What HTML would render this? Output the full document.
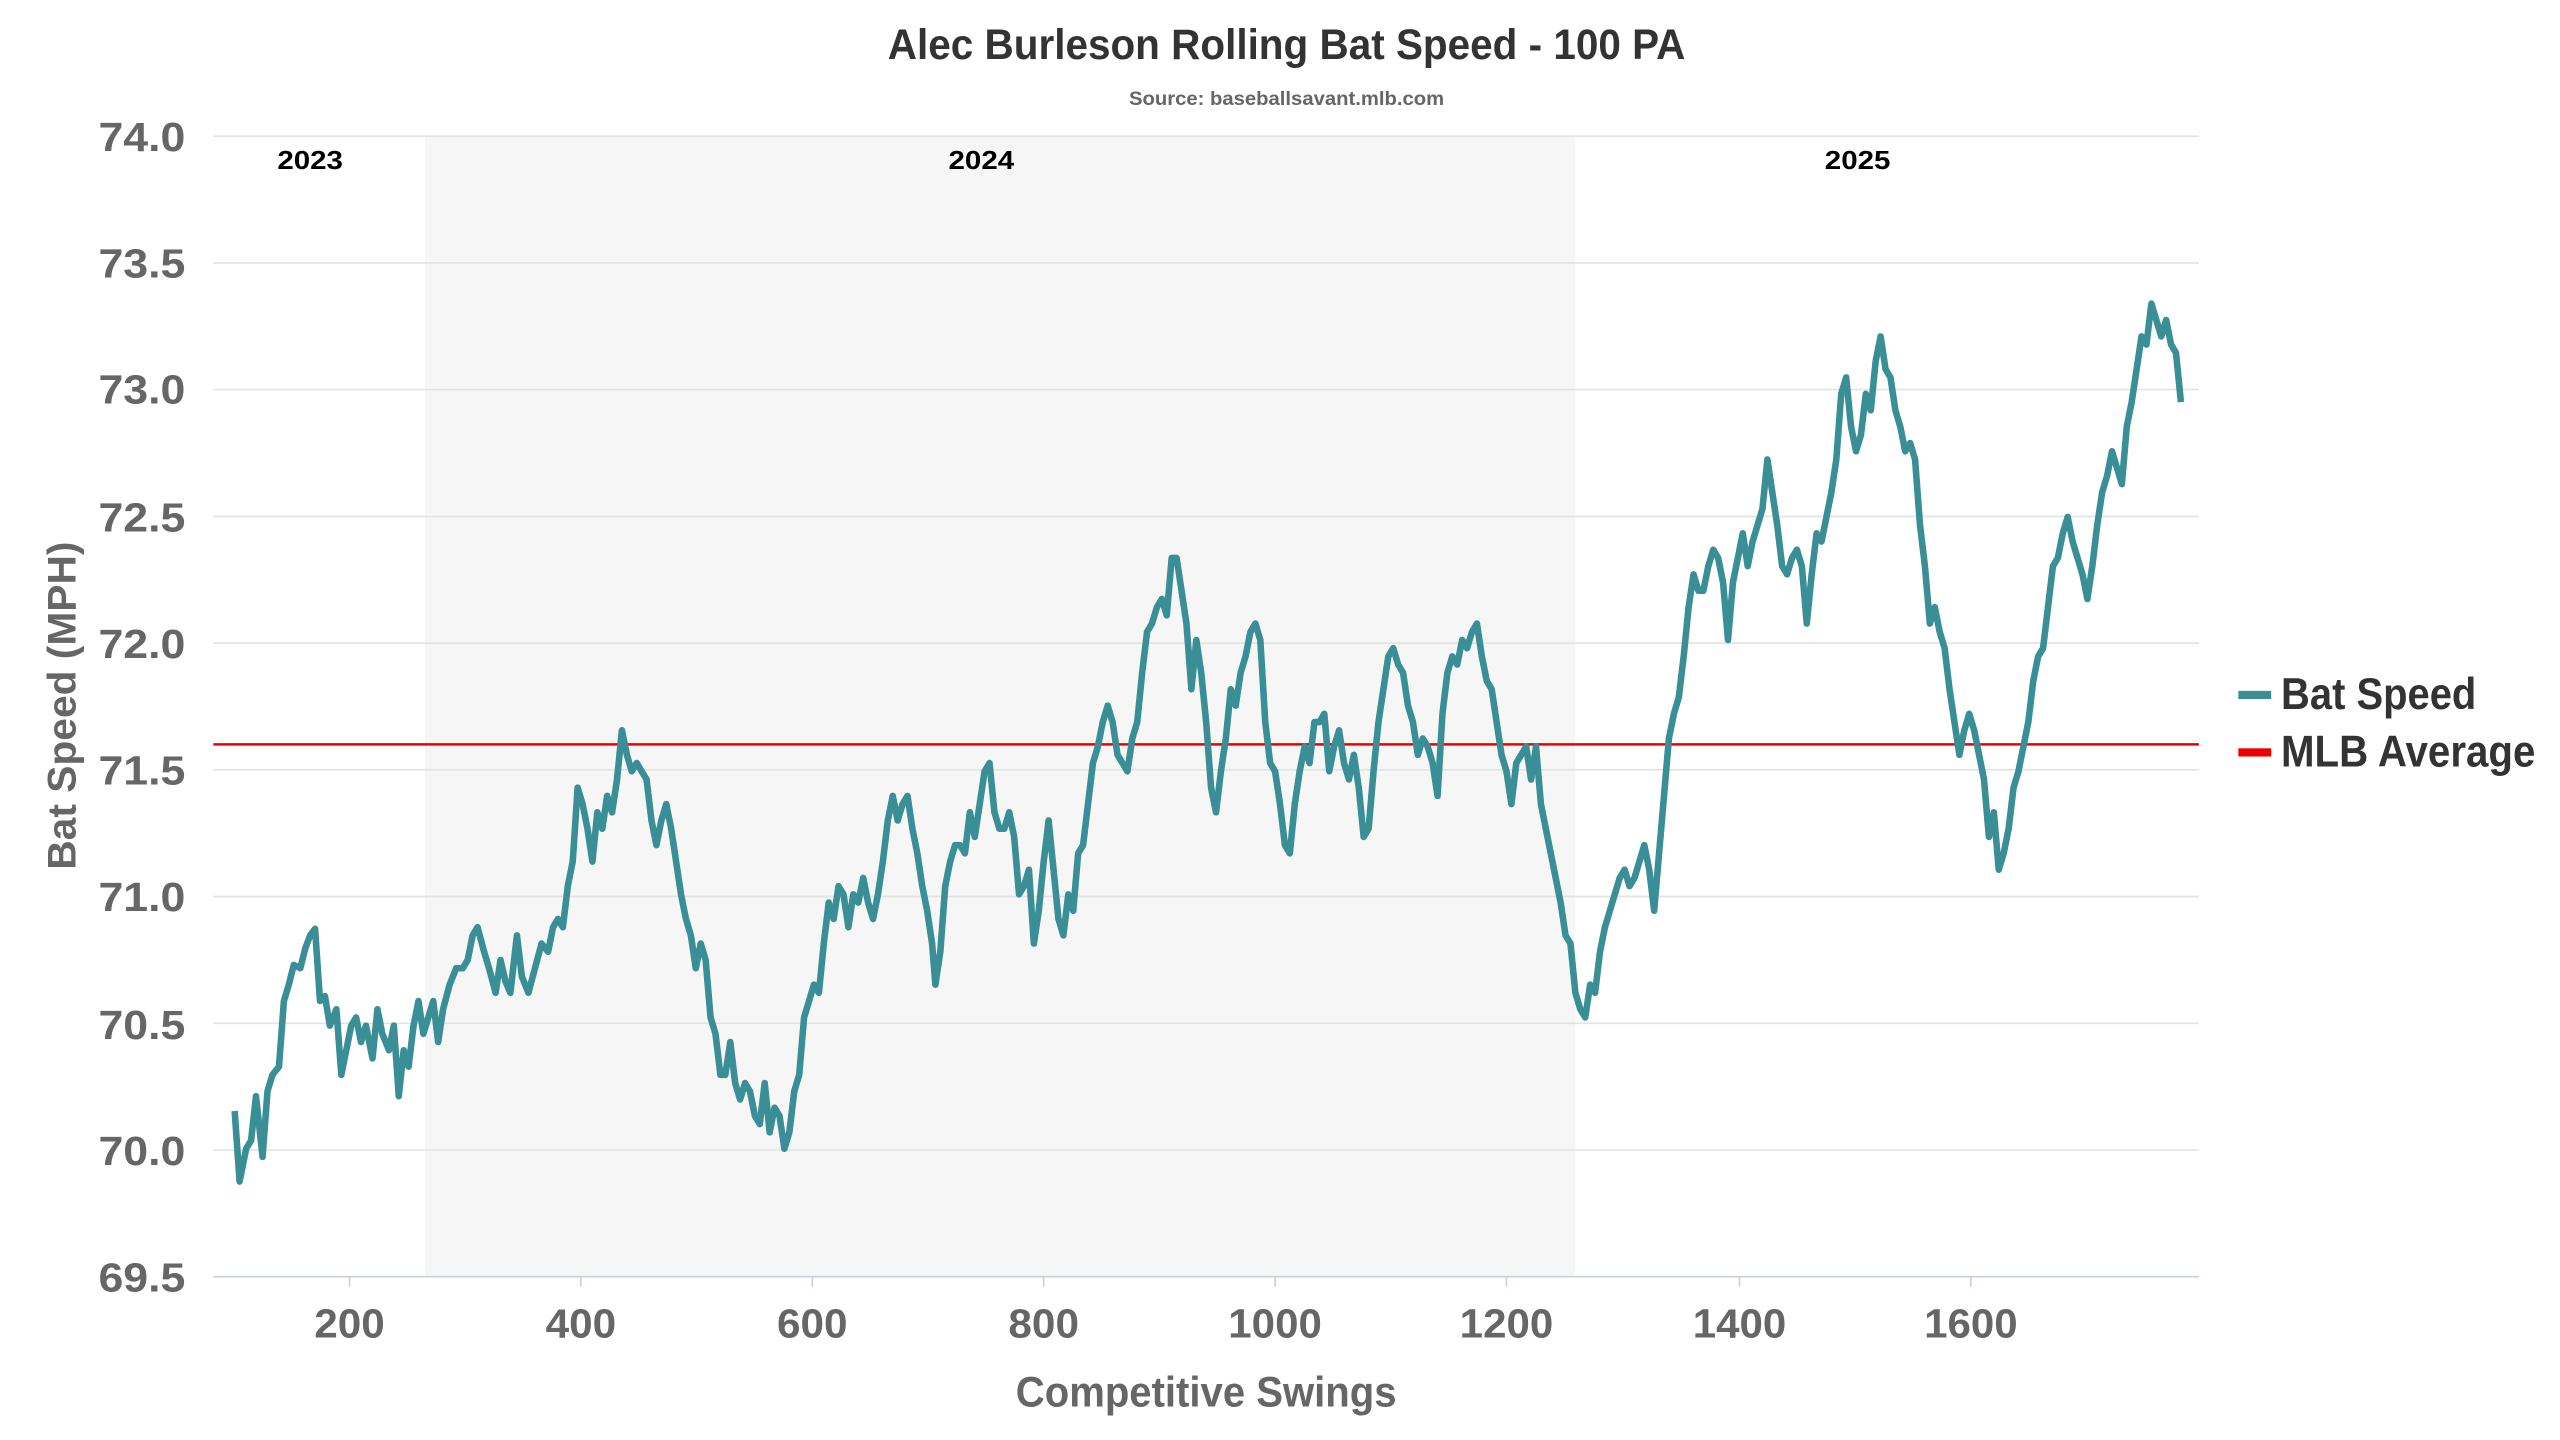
<!DOCTYPE html>
<html><head><meta charset="utf-8"><style>
html,body{margin:0;padding:0;background:#fff;width:2560px;height:1440px;overflow:hidden}
svg{display:block}
text{font-family:"Liberation Sans",sans-serif;font-weight:bold}
</style></head><body>
<svg width="2560" height="1440" viewBox="0 0 1560 877.5" preserveAspectRatio="none" xmlns="http://www.w3.org/2000/svg">
<rect width="1560" height="877.5" fill="#fff"/>
<rect x="259" y="83" width="701" height="695" fill="#f6f6f6"/>
<g stroke="#e3e3e3" stroke-width="1">
<line x1="130" x2="1340" y1="83" y2="83"/><line x1="130" x2="1340" y1="160.2" y2="160.2"/>
<line x1="130" x2="1340" y1="237.4" y2="237.4"/><line x1="130" x2="1340" y1="314.7" y2="314.7"/>
<line x1="130" x2="1340" y1="391.9" y2="391.9"/><line x1="130" x2="1340" y1="469.1" y2="469.1"/>
<line x1="130" x2="1340" y1="546.3" y2="546.3"/><line x1="130" x2="1340" y1="623.6" y2="623.6"/>
<line x1="130" x2="1340" y1="700.8" y2="700.8"/>
</g>
<line x1="130" x2="1340" y1="778" y2="778" stroke="#c8d0e0" stroke-width="1"/>
<g stroke="#c8d0e0"><line x1="213" x2="213" y1="778" y2="784"/><line x1="354" x2="354" y1="778" y2="784"/><line x1="495" x2="495" y1="778" y2="784"/><line x1="636" x2="636" y1="778" y2="784"/><line x1="777" x2="777" y1="778" y2="784"/><line x1="918" x2="918" y1="778" y2="784"/><line x1="1060" x2="1060" y1="778" y2="784"/><line x1="1201" x2="1201" y1="778" y2="784"/></g>
<line x1="130" x2="1340" y1="453.6" y2="453.6" stroke="#e00" stroke-width="1.5"/>
<polyline fill="none" stroke="#3a8f96" stroke-width="4" stroke-linejoin="round" points="143,677 146,720 150,700 153,695 156,668 160,705 163,665 166,655 170,650 173,610 176,600 179,588 183,590 186,578 189,570 192,566 195,610 198,607 201,625 205,615 208,655 211,640 214,625 217,620 220,635 223,625 227,645 230,615 233,630 237,640 240,625 243,668 246,640 249,650 252,625 255,610 258,630 261,620 264,610 267,635 270,615 274,600 278,590 282,590 285,585 288,570 291,565 295,580 298,590 302,605 305,585 308,598 311,605 315,570 318,595 322,605 326,590 330,575 334,580 337,565 340,560 343,565 346,540 349,525 352,480 355,490 358,505 361,525 364,495 367,505 370,485 373,495 376,475 379,445 382,460 385,470 388,465 391,470 394,475 397,500 400,515 403,500 406,490 409,505 412,525 415,545 418,560 421,570 424,590 427,575 430,585 433,620 436,630 439,655 442,655 445,635 448,660 451,670 454,660 457,665 460,680 463,685 466,660 469,690 472,675 475,680 478,700 481,690 484,665 487,655 490,620 493,610 496,600 499,605 502,575 505,550 508,560 511,540 514,545 517,565 520,545 523,550 526,535 529,550 532,560 535,545 538,525 541,500 544,485 547,500 550,490 553,485 556,505 559,520 562,540 565,555 568,575 570,600 573,580 576,540 579,525 582,515 585,515 588,520 591,495 594,510 597,490 600,470 603,465 606,495 609,505 612,505 615,495 618,510 621,545 624,540 627,530 630,575 633,555 636,525 639,500 642,530 645,560 648,570 651,545 654,555 657,520 660,515 663,490 666,465 669,455 672,440 675,430 678,440 681,460 684,465 687,470 690,450 693,440 696,410 699,385 702,380 705,370 708,365 711,375 714,340 717,340 720,360 723,380 726,420 729,390 732,410 735,440 738,480 741,495 744,470 747,450 750,420 753,430 756,410 759,400 762,385 765,380 768,390 771,440 774,465 777,470 780,490 783,515 786,520 789,490 792,470 795,455 798,465 801,440 804,440 807,435 810,470 813,455 816,445 819,465 822,475 825,460 828,480 831,510 834,505 837,470 840,440 843,420 846,400 849,395 852,405 855,410 858,430 861,440 864,460 867,450 870,455 873,465 876,485 879,435 882,410 885,400 888,405 891,390 894,395 897,385 900,380 903,400 906,415 909,420 912,440 915,460 918,470 921,490 924,465 927,460 930,455 933,475 936,455 939,490 942,505 945,520 948,535 951,550 954,570 957,575 960,605 963,615 966,620 969,600 972,605 975,580 978,565 981,555 984,545 987,535 990,530 993,540 996,535 999,525 1002,515 1005,530 1008,555 1011,520 1014,485 1017,450 1020,435 1023,425 1026,400 1029,370 1032,350 1035,360 1038,360 1041,345 1044,335 1047,340 1050,355 1053,390 1056,355 1059,340 1062,325 1065,345 1068,330 1071,320 1074,310 1077,280 1080,300 1083,320 1086,345 1089,350 1092,340 1095,335 1098,345 1101,380 1104,350 1107,325 1110,330 1113,315 1116,300 1119,280 1122,240 1125,230 1128,260 1131,275 1134,265 1137,240 1140,250 1143,220 1146,205 1149,225 1152,230 1155,250 1158,260 1161,275 1164,270 1167,280 1170,320 1173,345 1176,380 1179,370 1182,385 1185,395 1188,420 1191,440 1194,460 1197,445 1200,435 1203,445 1206,460 1209,475 1212,510 1215,495 1218,530 1221,520 1224,505 1227,480 1230,470 1233,455 1236,440 1239,415 1242,400 1245,395 1248,370 1251,345 1254,340 1257,325 1260,315 1263,330 1266,340 1269,350 1272,365 1275,345 1278,320 1281,300 1284,290 1287,275 1290,285 1293,295 1296,260 1299,245 1302,225 1305,205 1308,210 1311,185 1314,195 1317,205 1320,195 1323,210 1326,215 1329,245"/>
<g fill="#666" font-size="25" text-anchor="end" lengthAdjust="spacingAndGlyphs">
<text x="113" y="92" textLength="53" lengthAdjust="spacingAndGlyphs">74.0</text><text x="113" y="169" textLength="53" lengthAdjust="spacingAndGlyphs">73.5</text><text x="113" y="246" textLength="53" lengthAdjust="spacingAndGlyphs">73.0</text><text x="113" y="324" textLength="53" lengthAdjust="spacingAndGlyphs">72.5</text><text x="113" y="401" textLength="53" lengthAdjust="spacingAndGlyphs">72.0</text><text x="113" y="478" textLength="53" lengthAdjust="spacingAndGlyphs">71.5</text><text x="113" y="555" textLength="53" lengthAdjust="spacingAndGlyphs">71.0</text><text x="113" y="633" textLength="53" lengthAdjust="spacingAndGlyphs">70.5</text><text x="113" y="710" textLength="53" lengthAdjust="spacingAndGlyphs">70.0</text><text x="113" y="787" textLength="53" lengthAdjust="spacingAndGlyphs">69.5</text>
</g>
<g fill="#666" font-size="25" text-anchor="middle">
<text x="213" y="815" textLength="43" lengthAdjust="spacingAndGlyphs">200</text><text x="354" y="815" textLength="43" lengthAdjust="spacingAndGlyphs">400</text><text x="495" y="815" textLength="43" lengthAdjust="spacingAndGlyphs">600</text><text x="636" y="815" textLength="43" lengthAdjust="spacingAndGlyphs">800</text><text x="777" y="815" textLength="57" lengthAdjust="spacingAndGlyphs">1000</text><text x="918" y="815" textLength="57" lengthAdjust="spacingAndGlyphs">1200</text><text x="1060" y="815" textLength="57" lengthAdjust="spacingAndGlyphs">1400</text><text x="1201" y="815" textLength="57" lengthAdjust="spacingAndGlyphs">1600</text>
</g>
<text x="735" y="857" fill="#666" font-size="26" text-anchor="middle" textLength="232" lengthAdjust="spacingAndGlyphs">Competitive Swings</text>
<text transform="translate(46,430) rotate(-90)" fill="#666" font-size="24" text-anchor="middle" textLength="200" lengthAdjust="spacingAndGlyphs">Bat Speed (MPH)</text>
<text x="784" y="36" fill="#333" font-size="26" text-anchor="middle" textLength="486" lengthAdjust="spacingAndGlyphs">Alec Burleson Rolling Bat Speed - 100 PA</text>
<text x="784" y="64" fill="#666" font-size="12" text-anchor="middle" textLength="192" lengthAdjust="spacingAndGlyphs">Source: baseballsavant.mlb.com</text>
<g fill="#000" font-size="16" text-anchor="middle"><text x="189" y="103" textLength="40" lengthAdjust="spacingAndGlyphs">2023</text><text x="598" y="103" textLength="40" lengthAdjust="spacingAndGlyphs">2024</text><text x="1132" y="103" textLength="40" lengthAdjust="spacingAndGlyphs">2025</text></g>
<rect x="1364" y="421" width="20" height="5" fill="#3a8f96"/>
<text x="1390" y="432" fill="#333" font-size="27" textLength="119" lengthAdjust="spacingAndGlyphs">Bat Speed</text>
<rect x="1364" y="456" width="20" height="5" fill="#e00"/>
<text x="1390" y="467" fill="#333" font-size="27" textLength="155" lengthAdjust="spacingAndGlyphs">MLB Average</text>
</svg>
</body></html>
